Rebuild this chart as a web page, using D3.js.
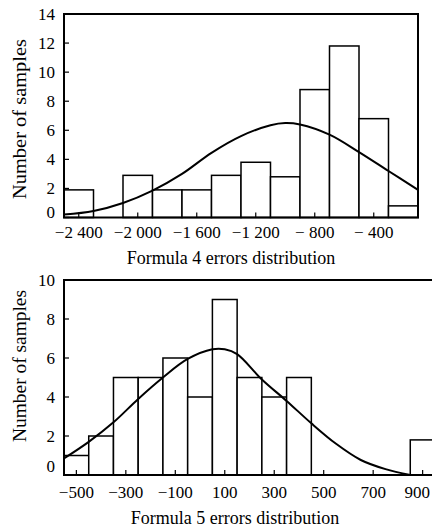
<!DOCTYPE html>
<html>
<head>
<meta charset="utf-8">
<script src="https://cdn.jsdelivr.net/npm/d3@7"></script>
<style>
  body { margin: 0; background: #fff; }
  svg { display: block; font-family: "Liberation Serif", "Times New Roman", serif; }
</style>
</head>
<body>
<div id="chart"></div>
<script>
// Formula 4 histogram (bin start, width 200)
const f4BinStarts = [-2500, -2300, -2100, -1900, -1700, -1500, -1300, -1100, -900, -700, -500, -300];
const f4Counts = [1.9, 0, 2.9, 1.9, 1.9, 2.9, 3.8, 2.8, 8.8, 11.8, 6.8, 0.8];
const f4CurveX = [-2500, -2300, -2100, -1900, -1700, -1500, -1300, -1100, -1000, -900, -700, -500, -300, -100];
const f4CurveY = [0.2, 0.45, 1.0, 1.85, 3.0, 4.45, 5.6, 6.35, 6.5, 6.4, 5.7, 4.5, 3.2, 1.9];
const f4Ticks = [-2400, -2000, -1600, -1200, -800, -400];
const f4TickLabels = ["\u22122 400", "\u22122 000", "\u22121 600", "\u22121 200", "\u2212 800", "\u2212 400"];

// Formula 5 histogram (bin start, width 100)
const f5BinStarts = [-550, -450, -350, -250, -150, -50, 50, 150, 250, 350, 450, 550, 650, 750, 850];
const f5Counts = [1, 2, 5, 5, 6, 4, 9, 5, 4, 5, 0, 0, 0, 0, 1.8];
const f5CurveX = [-550, -450, -350, -250, -150, -50, 50, 100, 150, 250, 350, 450, 550, 650, 750, 850];
const f5CurveY = [0.85, 1.7, 2.7, 3.9, 5.0, 5.95, 6.45, 6.45, 6.2, 4.9, 3.8, 2.65, 1.6, 0.77, 0.3, 0.0];
const f5Ticks = [-500, -300, -100, 100, 300, 500, 700, 900];
const f5TickLabels = ["\u2212500", "\u2212300", "\u2212100", "100", "300", "500", "700", "900"];

const W = 432, H = 527;
const svg = d3.select("#chart").append("svg").attr("width", W).attr("height", H);
svg.append("rect").attr("width", W).attr("height", H).attr("fill", "#fff");

function drawPanel(cfg) {
  const x = d3.scaleLinear().domain(cfg.xDomain).range([cfg.left, cfg.right]);
  const y = d3.scaleLinear().domain(cfg.yDomain).range([cfg.bottom, cfg.top]);
  const g = svg.append("g");

  // bars
  g.selectAll("rect.bar")
    .data(cfg.starts.map((s, i) => ({ s, c: cfg.counts[i] })).filter(d => d.c > 0))
    .enter().append("rect")
    .attr("class", "bar")
    .attr("x", d => x(d.s))
    .attr("y", d => y(d.c))
    .attr("width", d => x(d.s + cfg.binWidth) - x(d.s))
    .attr("height", d => y(0) - y(d.c))
    .attr("fill", "#fff")
    .attr("stroke", "#000")
    .attr("stroke-width", 1.5);

  // fitted curve
  const line = d3.line().x(d => x(d[0])).y(d => y(d[1])).curve(d3.curveCatmullRom);
  g.append("path")
    .datum(cfg.curveX.map((v, i) => [v, cfg.curveY[i]]))
    .attr("d", line)
    .attr("fill", "none")
    .attr("stroke", "#000")
    .attr("stroke-width", 2);

  // frame
  g.append("rect")
    .attr("x", cfg.left).attr("y", cfg.top)
    .attr("width", cfg.right - cfg.left).attr("height", cfg.bottom - cfg.top)
    .attr("fill", "none").attr("stroke", "#000").attr("stroke-width", 2);

  // x ticks (inward) and labels
  g.selectAll("line.xt").data(cfg.xTicks).enter().append("line")
    .attr("x1", d => x(d)).attr("x2", d => x(d))
    .attr("y1", cfg.bottom).attr("y2", cfg.bottom - 5)
    .attr("stroke", "#000").attr("stroke-width", 1.2);
  g.selectAll("text.xl").data(cfg.xTicks).enter().append("text")
    .attr("x", d => x(d)).attr("y", cfg.xLabelY)
    .attr("text-anchor", "middle").attr("font-size", 17)
    .text((d, i) => cfg.xLabels[i])
    .each(function () {
      // keep the last label inside the page
      const b = this.getBBox();
      if (b.x + b.width > W - 2) {
        d3.select(this).attr("text-anchor", "end").attr("x", W - 2);
      }
    });

  // y ticks and labels
  g.selectAll("line.yt").data(cfg.yTicks).enter().append("line")
    .attr("x1", cfg.left).attr("x2", cfg.left + 5)
    .attr("y1", d => y(d)).attr("y2", d => y(d))
    .attr("stroke", "#000").attr("stroke-width", 1.2);
  g.selectAll("text.yl").data(cfg.yTicks).enter().append("text")
    .attr("x", cfg.left - 9).attr("y", d => y(d) + (d === 0 ? -cfg.zeroLift : 0))
    .attr("dy", "0.35em")
    .attr("text-anchor", "end").attr("font-size", 17)
    .text(d => d);

  // axis titles
  g.append("text")
    .attr("transform", `translate(26,${cfg.yTitleY}) rotate(-90)`)
    .attr("text-anchor", "middle").attr("font-size", 18)
    .attr("textLength", cfg.yTitleLen).attr("lengthAdjust", "spacingAndGlyphs")
    .text("Number of samples");
  g.append("text")
    .attr("x", cfg.titleX).attr("y", cfg.titleY)
    .attr("text-anchor", "middle").attr("font-size", 18)
    .text(cfg.title);
}

drawPanel({
  xDomain: [-2500, -100], yDomain: [0, 14],
  left: 64, right: 418, top: 14, bottom: 217.5,
  starts: f4BinStarts, counts: f4Counts, binWidth: 200,
  curveX: f4CurveX, curveY: f4CurveY,
  xTicks: f4Ticks, xLabels: f4TickLabels, xLabelY: 238,
  yTicks: d3.range(0, 15, 2), zeroLift: 5,
  yTitleY: 119, yTitleLen: 160,
  title: "Formula 4 errors distribution", titleX: 231, titleY: 264
});

drawPanel({
  xDomain: [-550, 950], yDomain: [0, 10],
  left: 64, right: 435, top: 280, bottom: 475,
  starts: f5BinStarts, counts: f5Counts, binWidth: 100,
  curveX: f5CurveX, curveY: f5CurveY,
  xTicks: f5Ticks, xLabels: f5TickLabels, xLabelY: 498,
  yTicks: d3.range(0, 11, 2), zeroLift: 9,
  yTitleY: 366, yTitleLen: 152,
  title: "Formula 5 errors distribution", titleX: 235, titleY: 524
});
</script>
</body>
</html>
